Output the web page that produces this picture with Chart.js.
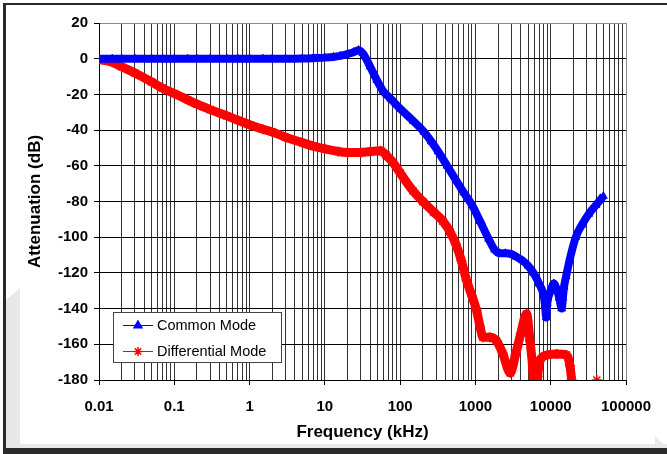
<!DOCTYPE html>
<html>
<head>
<meta charset="utf-8">
<script src="https://cdn.jsdelivr.net/npm/chart.js@4/dist/chart.umd.min.js"></script>
<style>
  html, body { margin: 0; padding: 0; background: #ffffff; }
  #caja { position: relative; width: 667px; height: 454px; }
</style>
</head>
<body>
<div id="caja"><canvas id="grafica"></canvas></div>
<script>
// Common Mode: frecuencia (kHz) y atenuacion (dB)
const freqComun = [0.01, 0.015, 0.02, 0.03, 0.05, 0.07, 0.1, 0.15, 0.2, 0.3, 0.5, 0.7, 1, 1.5, 2, 3, 5, 7, 10, 13, 16, 20, 24, 28, 32, 40, 49, 59, 75, 100, 150, 207, 260, 320, 420, 550, 700, 900, 1150, 1500, 1800, 2100, 2500, 3000, 3500, 4200, 5000, 5900, 7000, 8000, 8400, 8700, 9000, 10000, 11000, 12000, 13000, 14000, 14500, 15000, 16000, 18000, 21500, 26000, 32000, 40000, 50000];
const atenComun = [0, 0, 0, 0, 0, 0, 0, 0, 0, 0, 0, 0, 0, 0, 0, 0, 0.1, 0.3, 0.6, 1.0, 1.6, 2.6, 3.6, 4.8, 3, -4.5, -12, -18, -22.5, -28, -35, -41, -46.5, -52, -60, -68, -75, -82, -91, -101, -107, -109, -109, -109.5, -111, -113, -116, -120, -126, -132, -138, -145, -137, -130, -126, -129, -134, -140, -134, -128, -122, -112, -100, -93, -87, -82, -77];

// Differential Mode
const freqDif = [0.01, 0.015, 0.02, 0.03, 0.05, 0.07, 0.1, 0.15, 0.2, 0.3, 0.5, 0.7, 1, 1.5, 2, 3, 5, 7, 10, 15, 20, 30, 40, 55, 65, 80, 100, 148, 200, 280, 370, 460, 550, 650, 760, 900, 1035, 1150, 1260, 1550, 1900, 2300, 2900, 3400, 4000, 4770, 5300, 5800, 6200, 6700, 7240, 9000, 12000, 16200, 18000, 19000, 28000, 41000];
const atenDif = [-0.5, -2, -4.5, -8, -13, -16.5, -19.5, -23, -25.5, -28.5, -32, -34.5, -37, -39.5, -41, -44, -47, -49, -50.5, -52, -52.5, -52.5, -52, -51.5, -54, -58, -64, -74, -80, -86, -91, -97, -104, -113, -124, -133, -141, -150, -156, -156, -158, -165, -176, -166, -154, -143, -158, -175, -200, -178, -169, -166, -165.5, -166, -172, -180, null, -180];

const etiquetasY = [20, 0, -20, -40, -60, -80, -100, -120, -140, -160, -180];
const decadas = [0.01, 0.1, 1, 10, 100, 1000, 10000, 100000];

const fuente = '"Liberation Sans", Arial, sans-serif';
const fuenteEjes = { family: fuente, size: 15, weight: 'bold' };

function puntos(xs, ys) {
    return xs.map((x, i) => ({ x: x, y: ys[i] }));
}

function decadaDe(v) {
    return decadas.find(d => Math.abs(v / d - 1) < 1e-6);
}

// Marco y sombra del recuadro exterior
const marco = {
    id: 'marco',
    beforeDraw(chart) {
        const c = chart.ctx;
        c.save();
        c.fillStyle = '#ffffff';
        c.fillRect(0, 0, chart.width, chart.height);
        c.fillStyle = '#e8e8e8';
        c.beginPath();
        c.moveTo(6, 300);
        c.lineTo(20, 288);
        c.lineTo(20, 444);
        c.lineTo(6, 448);
        c.closePath();
        c.fill();
        c.fillRect(6, 444, 661, 4);
        c.beginPath();
        c.moveTo(655, 436);
        c.lineTo(667, 448);
        c.lineTo(655, 448);
        c.closePath();
        c.fill();
        c.fillStyle = '#2a2a2a';
        c.fillRect(3, 3, 664, 2);
        c.fillRect(3, 3, 3, 451);
        c.fillRect(3, 448, 664, 6);
        c.restore();
    }
};

// Leyenda con linea y marcador
const leyenda = {
    id: 'leyenda',
    afterDraw(chart) {
        const c = chart.ctx;
        c.save();
        c.fillStyle = '#ffffff';
        c.fillRect(113, 312, 168, 51);
        c.strokeStyle = '#444444';
        c.lineWidth = 1;
        c.strokeRect(113.5, 312.5, 168, 50);
        chart.data.datasets.forEach((ds, i) => {
            const y = 325 + i * 26;
            c.strokeStyle = ds.borderColor;
            c.lineWidth = 1;
            c.beginPath();
            c.moveTo(123, y + 0.5);
            c.lineTo(153, y + 0.5);
            c.stroke();
            c.fillStyle = ds.borderColor;
            c.lineWidth = 1.5;
            Chart.helpers.drawPoint(c, {
                pointStyle: ds.pointStyle,
                radius: 4.5,
                rotation: 0,
                borderWidth: 1.5
            }, 138, y + 0.5);
            c.fillStyle = '#000000';
            c.font = 'normal 14.5px ' + fuente;
            c.textBaseline = 'middle';
            c.fillText(ds.label, 157, y + 1);
        });
        c.restore();
    }
};

new Chart(document.getElementById('grafica'), {
    type: 'line',
    data: {
        datasets: [{
            label: 'Common Mode',
            data: puntos(freqComun, atenComun),
            borderColor: '#0000ff',
            backgroundColor: '#0000ff',
            borderWidth: 8,
            pointStyle: 'triangle',
            pointRadius: 4.5,
            pointBorderWidth: 1,
            cubicInterpolationMode: 'monotone'
        }, {
            label: 'Differential Mode',
            data: puntos(freqDif, atenDif),
            borderColor: '#ff0000',
            backgroundColor: '#ff0000',
            borderWidth: 9,
            pointStyle: 'star',
            pointRadius: 5,
            pointBorderWidth: 1.5,
            cubicInterpolationMode: 'monotone'
        }]
    },
    options: {
        responsive: true,
        maintainAspectRatio: false,
        animation: false,
        devicePixelRatio: 1,
        layout: { padding: { left: 20, top: 23, right: 41, bottom: 8 } },
        plugins: {
            legend: { display: false },
            tooltip: { enabled: false }
        },
        scales: {
            x: {
                type: 'logarithmic',
                min: 0.01,
                max: 100000,
                afterFit(scale) { scale.height = 66; },
                afterBuildTicks(scale) {
                    const t = [];
                    for (let k = -2; k <= 4; k++) {
                        for (let m = 1; m <= 9; m++) {
                            t.push({ value: m * Math.pow(10, k) });
                        }
                    }
                    t.push({ value: 100000 });
                    scale.ticks = t;
                },
                grid: {
                    color: (ctx) => ctx.tick && ctx.tick.value === 100000 ? '#8a8a8a' : '#333333',
                    lineWidth: 1,
                    drawTicks: true,
                    tickLength: 5,
                    tickColor: (ctx) => ctx.tick && decadaDe(ctx.tick.value) ? '#000000' : 'rgba(0,0,0,0)'
                },
                border: { color: '#000000', width: 1 },
                ticks: {
                    autoSkip: false,
                    maxRotation: 0,
                    padding: 13,
                    color: '#000000',
                    font: () => fuenteEjes,
                    callback: (v) => decadaDe(v) ? String(decadaDe(v)) : ''
                },
                title: {
                    display: true,
                    text: 'Frequency (kHz)',
                    color: '#000000',
                    padding: { top: 0, bottom: 3 },
                    font: { family: fuente, size: 17, weight: 'bold' }
                }
            },
            y: {
                min: -180,
                max: 20,
                afterFit(scale) { scale.width = 79; },
                afterBuildTicks(scale) {
                    scale.ticks = etiquetasY.map(v => ({ value: v }));
                },
                grid: {
                    color: (ctx) => ctx.tick && ctx.tick.value === 20 ? '#8a8a8a' : '#000000',
                    lineWidth: 1,
                    drawTicks: true,
                    tickLength: 5,
                    tickColor: '#000000'
                },
                border: { color: '#000000', width: 1 },
                ticks: {
                    padding: 6,
                    color: '#000000',
                    font: () => fuenteEjes
                },
                title: {
                    display: true,
                    text: 'Attenuation (dB)',
                    color: '#000000',
                    padding: { top: 5, bottom: 0 },
                    font: { family: fuente, size: 17, weight: 'bold' }
                }
            }
        }
    },
    plugins: [marco, leyenda]
});
</script>
</body>
</html>
